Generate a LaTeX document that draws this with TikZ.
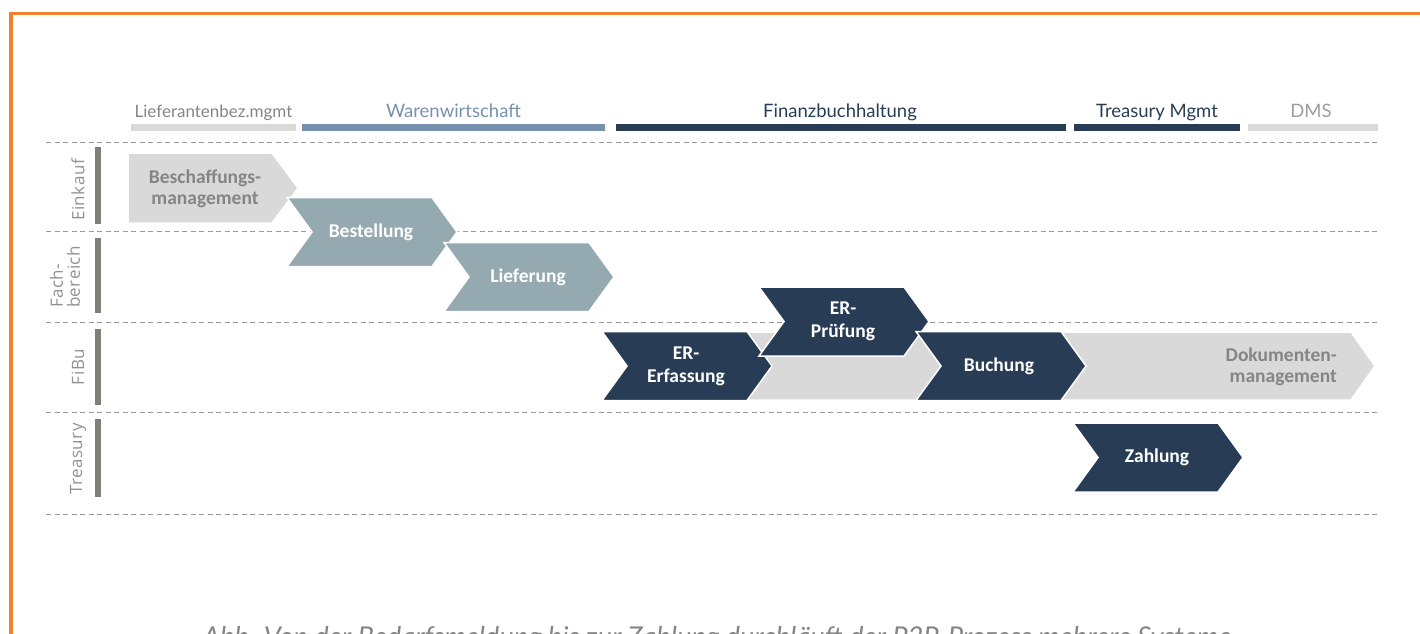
\documentclass[tikz,border=0pt]{standalone}
\usepackage{fontspec}
\setmainfont{Lato}
\newfontfamily\lanefont[LetterSpace=3]{Open Sans}
\newfontfamily\chevfont{Carlito}
\definecolor{frameorange}{HTML}{F3802F}
\definecolor{lightgray}{HTML}{D9D9D9}
\definecolor{steelblue}{HTML}{7591AE}
\definecolor{navy}{HTML}{283D55}
\definecolor{tealgray}{HTML}{94AAB0}
\definecolor{lanebar}{HTML}{7F7F7A}
\definecolor{labelgray}{HTML}{858585}
\definecolor{lanegray}{HTML}{929292}
\definecolor{dashgray}{HTML}{9A9A9A}
\newcommand\chevshape[3]{\path[#1] (#2,#3-34.5) -- ++(145,0) -- ++(25,34.5) -- ++(-25,34.5) -- ++(-145,0) -- ++(25,-34.5) -- cycle;}
\begin{document}
\begin{tikzpicture}[x=1pt,y=-1pt,
  lanesep/.style={draw=dashgray, line width=1pt, dash pattern=on 5pt off 3.5pt},
  headbar/.style={line width=7pt},
  headtext/.style={anchor=base, font=\fontsize{18.5}{22}\selectfont, inner sep=0pt},
  lanebarline/.style={draw=lanebar, line width=6pt},
  lanelabel/.style={rotate=90, text=lanegray, font=\lanefont\fontsize{17}{17}\selectfont, inner sep=0pt, align=left},
  chevgray/.style={fill=lightgray, draw=white, line width=1.5pt, line join=miter},
  chevteal/.style={fill=tealgray, draw=white, line width=1.5pt, line join=miter},
  chevnavy/.style={fill=navy, draw=white, line width=1.5pt, line join=miter},
  chevtext/.style={text=white, font=\chevfont\bfseries\fontsize{19.5}{22.5}\selectfont, align=center, inner sep=0pt},
  chevtextgray/.style={text=labelgray, font=\chevfont\bfseries\fontsize{19.5}{21}\selectfont, inner sep=0pt}
]
\useasboundingbox (0,0) rectangle (1420,633);
\clip (0,0) rectangle (1420,633);
% frame
\draw[frameorange, line width=3.5pt] (11,640) -- (11,13.5) -- (1425,13.5);

% header bars and labels
\draw[headbar, lightgray] (131,127.5) -- (296,127.5);
\draw[headbar, steelblue] (302,127.5) -- (605,127.5);
\draw[headbar, navy] (616,127.5) -- (1066,127.5);
\draw[headbar, navy] (1074,127.5) -- (1240,127.5);
\draw[headbar, lightgray] (1248,127.5) -- (1378,127.5);
\node[headtext, text=labelgray, font=\fontsize{17}{20}\selectfont] (hLief) at (213.5,117) {Lieferantenbez.mgmt};
\node[headtext, text=steelblue] (hWare) at (453.5,117) {Warenwirtschaft};
\node[headtext, text=navy] (hFibu) at (840,117) {Finanzbuchhaltung};
\node[headtext, text=navy] (hTreas) at (1157,117) {Treasury Mgmt};
\node[headtext, text=labelgray!80] (hDms) at (1311,117) {DMS};

% lane separators
\foreach \yy in {142,231,322,412,514} \draw[lanesep] (46,\yy) -- (1378,\yy);

% lane bars and labels
\draw[lanebarline] (98,147) -- (98,224);
\draw[lanebarline] (98,238) -- (98,313);
\draw[lanebarline] (98,329) -- (98,405);
\draw[lanebarline] (98,419) -- (98,497);
\node[lanelabel] (lEinkauf) at (78,190) {Einkauf};
\node[lanelabel] (lFach) at (65,277) {Fach-\\bereich};
\node[lanelabel] (lFibu) at (78,367) {FiBu};
\node[lanelabel] (lTreas) at (78,459) {Treasury};

% chevrons
\path[chevgray] (128,153) -- (272,153) -- (298,188) -- (272,223) -- (128,223) -- cycle;
\chevshape{chevteal}{287}{232}
\chevshape{chevteal}{444}{277}
\path[chevgray] (746,332) -- (1351,332) -- (1375,366) -- (1351,400) -- (746,400) -- (771,366) -- cycle;
\chevshape{chevnavy}{602}{366}
\chevshape{chevnavy}{759}{321.5}
\chevshape{chevnavy}{916}{366}
\chevshape{chevnavy}{1073}{457.5}

\node[chevtextgray, align=center] (tBesch) at (205,188.5) {Beschaffungs-\\management};
\node[chevtext] (tBest) at (371,232) {Bestellung};
\node[chevtext] (tLief) at (528,277) {Lieferung};
\node[chevtext] (tErf) at (686,366.5) {ER-\\Erfassung};
\node[chevtext] (tPruef) at (843,321.5) {ER-\\Prüfung};
\node[chevtext] (tBuch) at (999,366) {Buchung};
\node[chevtextgray, align=right, anchor=east] (tDok) at (1337,367) {Dokumenten-\\management};
\node[chevtext] (tZahl) at (1157,457.5) {Zahlung};

% caption
\node[anchor=base, text=labelgray, font=\itshape\fontsize{27.3}{30}\selectfont, inner sep=0pt] (caption) at (717,646) {Abb. Von der Bedarfsmeldung bis zur Zahlung durchläuft der P2P-Prozess mehrere Systeme};
\end{tikzpicture}
\end{document}
